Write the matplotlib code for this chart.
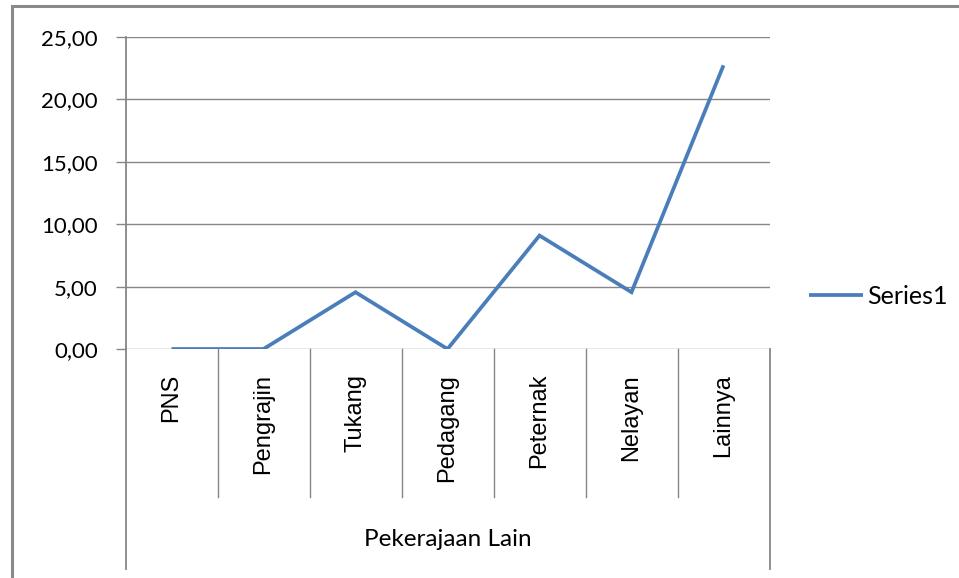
import matplotlib
matplotlib.use("Agg")
import matplotlib.pyplot as plt
from matplotlib.patches import Rectangle
from matplotlib.lines import Line2D
import matplotlib.transforms as mtransforms

categories = ["PNS", "Pengrajin", "Tukang", "Pedagang", "Peternak", "Nelayan", "Lainnya"]
values = [0.0, 0.0, 4.55, 0.0, 9.09, 4.55, 22.73]
yticks = [0, 5, 10, 15, 20, 25]
ytick_labels = ["0,00", "5,00", "10,00", "15,00", "20,00", "25,00"]
group_label = "Pekerajaan Lain"
series_name = "Series1"

W, H = 959, 578
fig = plt.figure(figsize=(W / 100, H / 100), dpi=100)
fig.patch.set_facecolor("white")

L, R, T, B = 125.5, 769.5, 37, 349
ax = fig.add_axes([L / W, 1 - B / H, (R - L) / W, (B - T) / H])
ax.set_xlim(0, len(categories))
ax.set_ylim(0, 25)

grid_c = "#868686"
for yv in yticks:
    ax.axhline(yv, color=grid_c, lw=1.0, zorder=1)

xs = [i + 0.5 for i in range(len(categories))]
line, = ax.plot(xs, values, color="#4A7EBB", lw=2.7, solid_capstyle="butt",
                solid_joinstyle="miter", zorder=3, label=series_name)

for s in ["top", "right", "bottom"]:
    ax.spines[s].set_visible(False)
ax.spines["left"].set_color(grid_c)
ax.spines["left"].set_linewidth(1.3)
ax.set_xticks([])
ax.set_yticks(yticks)
ax.set_yticklabels(ytick_labels, fontsize=16, family=["Lato", "DejaVu Sans"])
ax.tick_params(axis="y", direction="out", length=7, width=1, color=grid_c, pad=13)

# category separators below axis
ph = B - T
trans = mtransforms.blended_transform_factory(ax.transData, ax.transAxes)
for i in range(1, len(categories)):
    ax.add_line(Line2D([i, i], [0, -(497 - B) / ph], transform=trans,
                       color=grid_c, lw=1.0, clip_on=False))
for xv in [0, len(categories)]:
    ax.add_line(Line2D([xv, xv], [0, -(569 - B) / ph], transform=trans,
                       color=grid_c, lw=1.3, clip_on=False))

for xv, c in zip(xs, categories):
    ax.text(xv, -(374 - B) / ph, c, transform=trans, rotation=90, ha="center", va="top",
            fontsize=17, family=["Liberation Sans", "DejaVu Sans"], color="black")

ax.text(len(categories) / 2, -(540 - B) / ph, group_label, transform=trans,
        ha="center", va="center", fontsize=17.5, family=["Lato", "DejaVu Sans"])

leg = ax.legend(handles=[line], loc="center left", bbox_to_anchor=(809 / W, 1 - 296 / H),
                bbox_transform=fig.transFigure, frameon=False, handlelength=2.16,
                handletextpad=0.16, borderpad=0, borderaxespad=0,
                prop={"family": ["Lato", "DejaVu Sans"], "size": 18})

fig.patches.append(Rectangle((11.5 / W, -0.1), 1.2, 1.1 - 6.5 / H,
                             transform=fig.transFigure, fill=False,
                             edgecolor="#898989", lw=2.2))

fig.savefig("out.png", dpi=100)
